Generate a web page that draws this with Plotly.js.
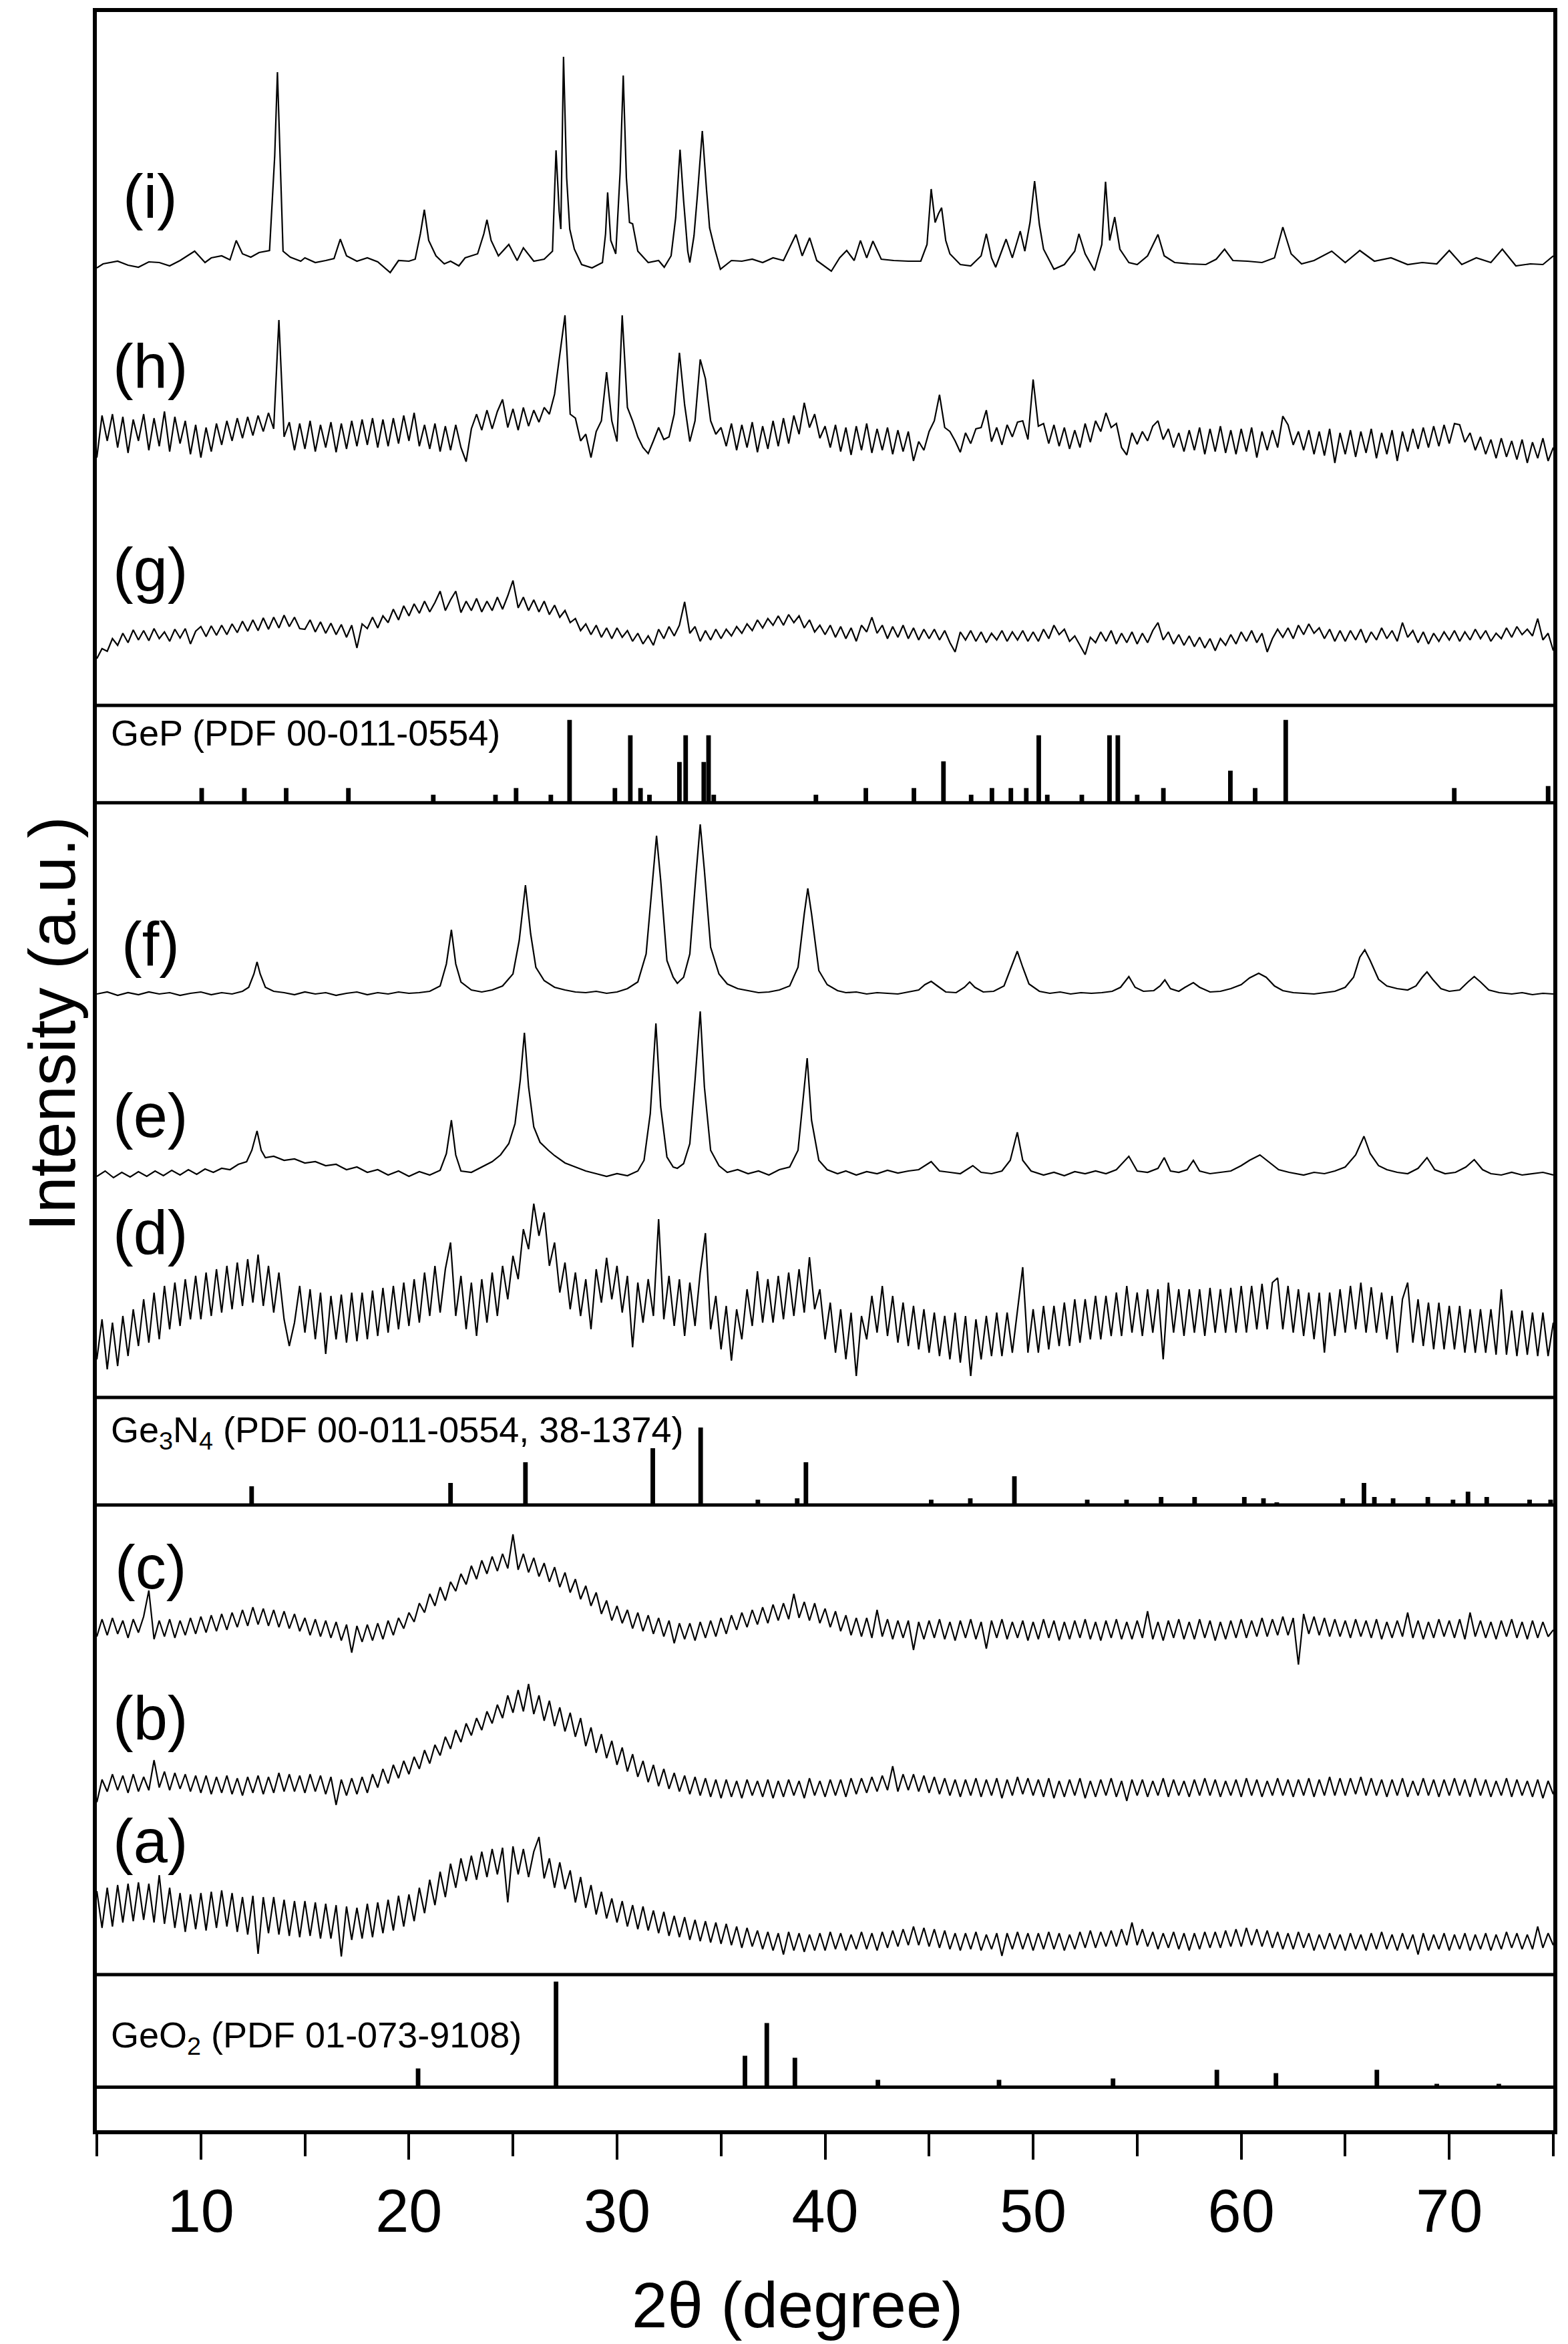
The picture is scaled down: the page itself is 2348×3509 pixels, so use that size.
<!DOCTYPE html>
<html>
<head>
<meta charset="utf-8">
<script src="https://cdn.plot.ly/plotly-3.0.1.min.js"></script>
<style>html,body{margin:0;padding:0;background:#fff}</style>
</head>
<body>
<div id="chart" style="width:2348px;height:3509px"></div>
<script>
// 2theta scan grid (0.25 deg step) used by the noisy patterns
const twoTheta = Array.from({length: 281}, (_, k) => 5 + 0.25 * k);

// intensities (a.u.), one row = 5 degrees
const patA = [
  75, 20, 80, 22, 84, 28, 86, 30, 88, 32, 86, 28, 99, 26, 80, 20, 72, 14, 70, 18,
  72, 16, 74, 20, 76, 22, 72, 14, 66, 10, 68, -19, 66, 12, 66, 10, 62, 8, 60, 6,
  60, 8, 58, 4, 56, 4, 54, -23, 52, 2, 50, 4, 56, 6, 58, 12, 62, 16, 68, 22,
  70, 30, 80, 42, 92, 54, 104, 66, 116, 80, 124, 90, 128, 92, 134, 96, 138, 100, 140, 58,
  142, 100, 138, 96, 134, 156, 94, 124, 80, 118, 78, 106, 58, 96, 50, 84, 40, 74, 34, 64,
  28, 60, 22, 54, 18, 52, 16, 46, 12, 44, 8, 38, 6, 36, 2, 32, 0, 30, -2, 28,
  -4, 26, -6, 22, -10, 20, -8, 16, -12, 14, -14, 12, -20, 14, -14, 12, -16, 10, -14, 12,
  -14, 14, -12, 12, -14, 10, -12, 14, -12, 12, -14, 14, -10, 16, -8, 18, -6, 22, -6, 20,
  -8, 18, -10, 16, -12, 12, -14, 12, -12, 14, -14, 10, -12, 12, -22, 12, -12, 14, -12, 12,
  -14, 12, -12, 14, -12, 12, -14, 10, -12, 14, -10, 16, -10, 14, -8, 16, -8, 18, -6, 28,
  -6, 18, -8, 14, -12, 12, -10, 14, -12, 12, -14, 12, -12, 14, -10, 14, -10, 16, -8, 18,
  -8, 20, -6, 18, -8, 16, -10, 14, -12, 12, -12, 14, -10, 12, -14, 10, -12, 12, -12, 10,
  -14, 12, -12, 10, -14, 12, -12, 14, -12, 10, -14, 12, -12, 10, -20, 12, -14, 10, -12, 12,
  -14, 10, -12, 12, -14, 10, -12, 12, -14, 10, -12, 14, -10, 12, -12, 10, -12, 22, -10, 12,
  -6
];
const patB = [
  -22, 12, -6, 20, -4, 18, -8, 20, -6, 16, -4, 41, 0, 24, -4, 22, -2, 20, -6, 18,
  -8, 18, -10, 16, -8, 18, -10, 14, -12, 16, -8, 18, -10, 16, -8, 22, -6, 20, -6, 18,
  -8, 20, -6, 18, -10, 16, -26, 12, -12, 14, -10, 16, -8, 20, 0, 28, 6, 34, 14, 40,
  20, 46, 28, 56, 36, 64, 48, 76, 58, 86, 68, 96, 78, 104, 86, 114, 96, 124, 104, 138,
  112, 146, 114, 155, 110, 138, 100, 130, 92, 120, 84, 112, 76, 104, 62, 90, 52, 80, 44, 70,
  34, 60, 24, 50, 16, 40, 8, 34, 2, 28, -2, 22, -6, 18, -10, 16, -12, 14, -14, 12,
  -16, 12, -14, 10, -16, 12, -12, 10, -14, 12, -16, 10, -14, 12, -12, 10, -16, 14, -12, 10,
  -14, 12, -12, 12, -14, 14, -10, 14, -8, 16, -6, 18, -4, 32, -6, 20, -4, 20, -6, 18,
  -8, 16, -10, 14, -12, 12, -14, 12, -12, 14, -14, 12, -12, 14, -16, 12, -12, 16, -10, 14,
  -12, 12, -14, 14, -16, 10, -14, 12, -12, 14, -16, 10, -14, 12, -12, 14, -14, 10, -20, 12,
  -12, 12, -14, 10, -12, 14, -14, 12, -12, 10, -14, 12, -12, 14, -12, 12, -14, 10, -12, 12,
  -14, 14, -12, 12, -14, 10, -12, 14, -12, 12, -14, 12, -12, 14, -14, 12, -12, 16, -12, 14,
  -12, 14, -10, 16, -12, 14, -12, 12, -14, 12, -12, 14, -14, 10, -12, 14, -12, 12, -14, 12,
  -12, 14, -12, 12, -14, 14, -12, 12, -14, 10, -12, 14, -14, 12, -12, 10, -14, 12, -16, 10,
  -10
];
const patC = [
  -10, 16, -8, 18, -6, 14, -12, 16, -4, 20, 59, -14, 14, -10, 16, -12, 14, -8, 18, -6,
  20, -4, 22, -2, 24, 0, 26, 4, 30, 6, 34, 8, 32, 6, 30, 4, 28, 2, 24, -2,
  18, -8, 16, -10, 14, -12, 12, -16, 8, -34, 6, -18, 8, -16, 10, -14, 14, -8, 18, 2,
  26, 12, 40, 26, 54, 36, 64, 44, 72, 58, 84, 68, 96, 76, 104, 84, 110, 88, 114, 92,
  143, 90, 114, 86, 108, 80, 100, 72, 94, 64, 86, 56, 76, 46, 66, 36, 56, 24, 44, 14,
  36, 10, 30, 2, 26, -2, 22, -6, 18, -10, 14, -20, 10, -14, 10, -16, 12, -12, 14, -10,
  18, -6, 22, 0, 26, 4, 30, 8, 34, 10, 38, 14, 40, 16, 54, 18, 42, 14, 40, 10,
  32, 4, 28, -2, 22, -8, 18, -10, 18, -12, 30, -10, 16, -14, 14, -12, 14, -30, 12, -14,
  14, -12, 16, -14, 12, -16, 14, -12, 16, -14, 12, -28, 14, -12, 16, -14, 12, -12, 14, -16,
  12, -14, 16, -12, 14, -16, 12, -14, 14, -12, 16, -14, 12, -16, 14, -12, 16, -14, 12, -14,
  14, -12, 28, -14, 12, -16, 14, -12, 16, -14, 12, -14, 16, -12, 14, -16, 12, -14, 14, -12,
  16, -12, 14, -10, 18, -10, 16, -8, 20, -8, 18, -52, 24, -6, 20, -8, 18, -10, 16, -10,
  14, -12, 16, -10, 14, -12, 16, -14, 12, -12, 14, -10, 26, -12, 14, -14, 12, -12, 16, -10,
  14, -12, 16, -14, 26, -10, 14, -12, 12, -14, 14, -10, 16, -12, 12, -14, 14, -12, 12, -10,
  0
];
const patD = [
  -45, 15, -60, 10, -55, 20, -40, 30, -25, 45, -20, 55, -15, 65, 0, 70, 5, 75, 15, 80,
  15, 85, 20, 90, 25, 95, 30, 100, 35, 105, 40, 112, 35, 95, 25, 85, 15, -25, 10, 65,
  -5, 60, -15, 55, -37, 50, -15, 52, -20, 55, -18, 55, -15, 58, -10, 62, -5, 65, 0, 70,
  5, 75, 10, 85, 20, 95, 25, 90, 130, 20, 80, 0, 70, -10, 75, 10, 85, 20, 95, 45,
  110, 75, 150, 120, 188, 140, 175, 95, 130, 55, 100, 30, 85, 20, 75, 0, 90, 40, 107, 45,
  95, 25, 80, -27, 70, 10, 75, 20, 165, 15, 80, 5, 75, -10, 70, 5, 85, 144, 0, 50,
  -30, 35, -47, 30, -15, 60, 5, 87, 10, 75, 10, 80, 15, 85, 20, 90, 25, 108, 30, 60,
  -15, 40, -35, 30, -45, 25, -70, 20, -15, 50, -5, 65, -10, 50, -20, 40, -25, 35, -30, 30,
  -35, 25, -40, 20, -45, 25, -50, 20, -70, 15, -45, 20, -40, 25, -40, 25, -35, 30, 93, -35,
  30, -35, 35, -30, 35, -25, 40, -25, 45, -20, 45, -15, 50, -15, 50, -10, 55, -10, 65, -5,
  55, -10, 60, -5, 60, -45, 70, -5, 60, -10, 60, -5, 60, -10, 62, -5, 60, -5, 62, -5,
  65, -5, 65, 0, 68, 0, 70, 77, 0, 65, -5, 60, -10, 55, -15, 55, -35, 55, -10, 60,
  -5, 65, 0, 70, -5, 63, -5, 55, -15, 50, -35, 45, 70, -20, 45, -25, 40, -30, 40, -30,
  35, -30, 35, -35, 30, -35, 30, -35, 30, -38, 60, -38, 28, -40, 28, -38, 25, -40, 25, -40,
  10
];
const patG = [
  -36, -21, -25, -6, -16, 2, -12, 7, -8, 6, -9, 9, -6, 4, -10, 8, -5, 9, -14, 5,
  12, -3, 13, -1, 14, 0, 16, 3, 20, 5, 22, 6, 25, 8, 26, 10, 29, 12, 26, 9,
  8, 22, 4, 19, 2, 17, 0, 15, -4, 14, -20, 16, 9, 26, 10, 28, 18, 38, 22, 43,
  28, 46, 32, 50, 34, 48, 65, 36, 52, 65, 33, 50, 36, 54, 34, 50, 36, 56, 38, 58,
  81, 40, 56, 36, 52, 34, 50, 30, 44, 26, 36, 18, 24, 6, 16, 0, 14, -4, 10, -6,
  10, -4, 6, -10, 2, -14, -2, -16, 8, -6, 12, -2, 14, 49, 2, 12, -10, 6, -8, 8,
  -6, 8, -2, 12, 2, 16, 6, 22, 10, 24, 14, 28, 14, 30, 18, 28, 10, 22, 4, 14,
  0, 14, -4, 12, -6, 10, -10, 14, 4, 26, 2, 14, -6, 12, -4, 14, -6, 10, -8, 8,
  -6, 8, -8, 6, -12, -26, 4, -8, 6, -10, 4, -12, 2, -8, 6, -10, 4, -8, 6, -10,
  4, -10, 8, -6, 14, 0, 8, -10, -2, -16, -30, -4, -12, 4, -10, 6, -14, 2, -12, 4,
  -14, 2, -12, 6, 18, -8, 4, -14, 0, -16, -2, -18, -4, -20, -6, -24, -6, -16, 0, -14,
  4, -10, 6, -12, 2, -26, -6, 8, -4, 10, -6, 14, 0, 16, 2, 10, -6, 8, -10, 6,
  -10, 6, -8, 8, -12, 4, -8, 10, -6, 6, -10, 18, -4, 6, -12, 4, -14, 2, -10, 4,
  -8, 6, -10, 4, -8, 8, -6, 6, -10, 2, -6, 10, -4, 12, 0, 8, -2, 24, -8, 2,
  -24
];
const patH = [
  -35, 28, -10, 30, -20, 26, -28, 22, -10, 30, -24, 24, -18, 34, -26, 26, -14, 20, -30, 14,
  -35, 10, -26, 16, -16, 20, -10, 24, -6, 26, -2, 28, 4, 32, 8, 171, -4, 18, -24, 16,
  -22, 20, -26, 14, -20, 18, -27, 16, -22, 20, -18, 22, -16, 24, -20, 22, -18, 24, -14, 28,
  -10, 32, -18, 14, -22, 16, -26, 12, -24, 14, -20, -41, 8, 30, 6, 36, 8, 34, 52, 10,
  38, 6, 40, 12, 36, 18, 40, 30, 60, 120, 178, 30, 24, -10, 0, -35, 4, 20, 93, 20,
  -11, 178, 40, 20, -4, -20, -29, -10, 10, -8, -4, 30, 122, 44, -11, 20, 112, 83, 20, 0,
  10, -18, 16, -24, 14, -20, 18, -27, 12, -22, 20, -18, 24, -14, 28, 0, 47, 10, 30, -6,
  12, -20, 14, -26, 10, -31, 12, -24, 16, -28, 8, -24, 10, -30, 6, -26, 4, -40, -11, -24,
  4, 20, 59, 10, 4, -10, -27, 2, -14, 8, 10, 36, -11, 10, -16, 14, -4, 18, 20, -8,
  82, 12, 16, -14, 14, -18, 10, -22, 6, -20, 16, -12, 20, 4, 32, 10, 16, -20, -31, 2,
  -15, 4, -10, 12, 20, -8, 8, -20, 2, -26, 6, -24, 10, -30, 8, -26, 12, -28, 6, -30,
  8, -26, 10, -35, 4, -24, 6, -20, 27, 14, -16, 4, -24, 6, -30, 4, -32, 8, -43, 2,
  -30, 6, -34, 4, -28, 8, -36, 2, -30, 6, -40, 4, -26, 8, -22, 10, -20, 12, -18, 14,
  -14, 16, 14, -12, 2, -24, -4, -30, -8, -36, -6, -34, -10, -38, -8, -43, -12, -36, -6, -40,
  -20
];

// crystalline patterns, [2theta, intensity]
const patE = [
  [5,-4],[5.4,4],[5.8,-6],[6.2,2],[6.6,-5],[7,3],[7.4,-4],[7.8,4],[8.2,-3],[8.6,5],[9,-2],[9.4,6],[9.8,-1],
  [10.2,7],[10.6,2],[11,8],[11.4,6],[11.8,14],[12.2,18],[12.45,35],[12.7,64],[12.9,35],[13.1,24],[13.5,26],
  [14,20],[14.5,22],[15,16],[15.5,18],[16,12],[16.5,14],[17,6],[17.5,10],[18,2],[18.5,6],[19,-2],[19.5,4],
  [20,-4],[20.5,3],[21,-2],[21.5,5],[21.8,30],[22.04,80],[22.25,28],[22.5,4],[23,2],[23.5,10],[24,18],
  [24.4,28],[24.8,45],[25.1,75],[25.35,140],[25.55,211],[25.75,130],[26,70],[26.3,47],[26.7,35],[27,27],
  [27.5,16],[28,10],[28.5,4],[29,0],[29.5,-4],[30,0],[30.5,-3],[31,4],[31.3,20],[31.6,90],[31.87,225],
  [32.1,100],[32.4,25],[32.7,10],[32.9,8],[33.2,15],[33.5,45],[33.75,140],[34,243],[34.2,130],[34.5,35],
  [34.9,12],[35.3,2],[35.8,6],[36.3,0],[36.8,4],[37.3,-2],[37.8,6],[38.3,10],[38.7,35],[38.95,110],
  [39.14,173],[39.35,80],[39.7,20],[40.1,6],[40.6,0],[41,4],[41.5,-2],[42,3],[42.5,0],[43,5],[43.5,1],
  [44,4],[44.5,6],[45.1,18],[45.5,4],[46,2],[46.5,0],[47.1,12],[47.5,2],[48,0],[48.5,4],[48.9,20],
  [49.24,62],[49.5,20],[49.9,4],[50.5,-2],[51,2],[51.5,-3],[52,3],[52.5,0],[53,4],[53.5,0],[54,6],
  [54.6,26],[55,4],[55.5,2],[56,8],[56.3,24],[56.6,4],[57,2],[57.4,6],[57.7,20],[58,4],[58.5,0],[59,2],
  [59.5,4],[60,12],[60.4,20],[60.9,28],[61.3,18],[61.8,6],[62.3,2],[63,-2],[63.5,2],[64,0],[64.5,4],
  [65,10],[65.5,28],[65.9,56],[66.2,30],[66.6,12],[67,6],[67.5,2],[68,0],[68.5,8],[68.93,24],[69.3,6],
  [69.8,0],[70.3,2],[70.8,10],[71.2,21],[71.6,6],[72,0],[72.5,-2],[73,2],[73.5,-2],[74,0],[74.5,2],[75,-2]
];
const patF = [
  [5,0],[5.5,3],[6,-2],[6.5,2],[7,-1],[7.5,3],[8,0],[8.5,2],[9,-2],[9.5,1],[10,3],[10.5,-1],[11,2],[11.5,0],
  [12,4],[12.3,10],[12.55,30],[12.7,48],[12.85,30],[13.1,10],[13.5,4],[14,2],[14.5,-1],[15,3],[15.5,0],
  [16,2],[16.5,-2],[17,1],[17.5,3],[18,-1],[18.5,2],[19,0],[19.5,3],[20,1],[20.5,2],[21,4],[21.5,12],
  [21.8,45],[22.04,96],[22.25,45],[22.5,18],[23,6],[23.5,3],[24,6],[24.5,12],[25,30],[25.3,80],[25.6,163],
  [25.85,90],[26.1,40],[26.5,20],[27,10],[27.5,6],[28,3],[28.5,2],[29,4],[29.5,1],[30,3],[30.5,8],[31,18],
  [31.4,60],[31.7,170],[31.9,237],[32.1,170],[32.4,50],[32.7,25],[32.9,16],[33.2,25],[33.5,60],[33.8,180],
  [34,254],[34.2,185],[34.5,70],[34.9,30],[35.3,15],[35.8,8],[36.3,5],[36.8,2],[37.3,3],[37.8,6],[38.3,12],
  [38.7,40],[39,120],[39.17,158],[39.35,120],[39.7,35],[40.1,14],[40.6,5],[41,2],[41.5,3],[42,0],[42.5,2],
  [43,1],[43.5,0],[44,3],[44.5,6],[44.8,14],[45.1,19],[45.4,12],[45.8,3],[46.3,2],[46.7,10],[46.95,18],
  [47.2,10],[47.6,3],[48.1,4],[48.6,12],[48.95,40],[49.24,64],[49.5,40],[49.8,15],[50.3,4],[50.8,1],
  [51.3,3],[51.8,0],[52.3,2],[52.8,1],[53.3,2],[53.8,4],[54.2,10],[54.6,26],[54.9,10],[55.3,4],[55.8,5],
  [56.1,12],[56.33,21],[56.6,8],[57,4],[57.3,10],[57.7,17],[58,10],[58.5,3],[59,4],[59.5,8],[60,14],
  [60.4,24],[60.84,31],[61.2,25],[61.6,12],[62,5],[62.5,2],[63,1],[63.5,0],[64,2],[64.5,4],[65,10],
  [65.4,25],[65.7,55],[65.94,66],[66.2,50],[66.6,22],[67,12],[67.5,8],[68,6],[68.4,12],[68.7,25],
  [68.93,33],[69.2,22],[69.6,8],[70,4],[70.5,6],[70.9,18],[71.2,26],[71.5,18],[71.9,6],[72.4,2],[73,0],
  [73.5,2],[74,-1],[74.5,1],[75,0]
];
const patITheta = [
  5, 5.3, 6, 6.5, 7, 7.5, 8, 8.5, 9, 9.7,
  10.2, 10.5, 11, 11.4, 11.7, 12, 12.4, 12.8, 13.3, 13.55,
  13.68, 13.8, 13.95, 14.3, 14.8, 15, 15.5, 16, 16.4, 16.7,
  17, 17.5, 18, 18.5, 19.1, 19.5, 20, 20.3, 20.55, 20.74,
  20.95, 21.3, 21.7, 22, 22.4, 22.7, 23.3, 23.6, 23.75, 23.95,
  24.3, 24.8, 25.2, 25.5, 26, 26.5, 26.9, 27.07, 27.22, 27.3,
  27.43, 27.58, 27.73, 27.95, 28.3, 28.8, 29.3, 29.45, 29.55, 29.7,
  29.94, 30.15, 30.3, 30.45, 30.6, 30.75, 31, 31.5, 32, 32.27,
  32.6, 32.82, 33.03, 33.2, 33.4, 33.5, 33.7, 33.87, 34.1, 34.3,
  34.45, 34.7, 34.97, 35.5, 36, 36.5, 37, 37.5, 38, 38.6,
  38.9, 39.26, 39.6, 40.3, 40.7, 41.04, 41.4, 41.7, 42, 42.3,
  42.7, 43.3, 44, 44.6, 44.9, 45.1, 45.29, 45.45, 45.6, 45.8,
  46, 46.5, 47, 47.5, 47.75, 48, 48.2, 48.7, 49, 49.38,
  49.6, 49.85, 50.07, 50.3, 50.5, 51, 51.5, 52, 52.2, 52.5,
  52.95, 53.3, 53.48, 53.68, 53.92, 54.17, 54.6, 55, 55.5, 56,
  56.3, 56.8, 57.5, 58.3, 58.8, 59.2, 59.6, 60.3, 61, 61.6,
  62, 62.4, 62.9, 63.5, 64.35, 65, 65.7, 66.4, 67.2, 68,
  68.7, 69.4, 70, 70.6, 71.3, 72, 72.55, 73.2, 73.9, 74.5,
  75
];
const patIInt = [
  -8, -2, 2, -4, -7, 1, 0, -5, 3, 17,
  0, 7, 10, 4, 33, 13, 8, 15, 18, 160,
  285, 160, 17, 8, 2, 7, 0, 3, 6, 35,
  10, 2, 7, 1, -15, 3, 2, 5, 43, 79,
  33, 10, -2, 2, -5, 7, 13, 43, 64, 33,
  10, 27, 3, 22, 2, 5, 17, 168, 77, 50,
  308, 127, 50, 20, -3, -8, 0, 43, 105, 33,
  13, 135, 280, 127, 60, 58, 17, 0, 3, -7,
  10, 67, 169, 93, 17, 0, 40, 103, 197, 110,
  52, 20, -10, 3, 2, 5, 0, 7, 3, 42,
  10, 37, 3, -13, 7, 18, 3, 33, 7, 32,
  5, 3, 2, 2, 27, 110, 60, 73, 82, 33,
  13, -3, -5, 10, 43, 7, -7, 35, 7, 47,
  17, 60, 122, 57, 20, -10, -3, 17, 43, 13,
  -12, 27, 121, 33, 68, 20, 0, -3, 10, 42,
  10, 0, -2, -3, 5, 20, 3, 2, 0, 7,
  53, 13, -2, 3, 17, 0, 18, 2, 7, -3,
  0, -2, 18, -3, 7, 0, 20, -5, -2, -3,
  10
];

// reference stick patterns
const gepPos = [10.04, 12.09, 14.1, 17.09, 21.17, 24.16, 25.15, 26.82, 27.72, 29.9, 30.64, 31.13, 31.56,
  33.0, 33.3, 34.17, 34.4, 34.65, 39.56, 41.96, 44.27, 45.69, 47.02, 48.02, 48.93, 49.67, 50.27, 50.68,
  52.34, 53.67, 54.07, 55.0, 56.26, 59.48, 60.67, 62.14, 70.24, 74.75];
const gepInt = [22, 22, 22, 22, 12, 12, 22, 12, 124, 22, 101, 22, 12,
  61, 101, 61, 101, 12, 12, 22, 22, 62, 12, 22, 22, 22, 101, 12,
  12, 101, 101, 12, 22, 48, 22, 124, 22, 25];
const ge3n4Pos = [12.44, 22.0, 25.6, 31.72, 34.02, 36.77, 38.66, 39.08, 45.1, 46.98, 49.1, 52.6, 54.49,
  56.15, 57.76, 60.15, 61.07, 61.71, 64.88, 65.9, 66.4, 67.3, 68.97, 70.18, 70.9, 71.8, 73.86, 74.87];
const ge3n4Int = [28, 33, 64, 85, 116, 8, 10, 64, 8, 10, 43, 8, 8,
  12, 12, 12, 10, 4, 10, 33, 12, 10, 12, 8, 20, 12, 8, 8];
const geo2Pos = [20.44, 27.07, 36.15, 37.2, 38.55, 42.54, 48.36, 53.84, 58.83, 61.67, 66.52, 69.4, 72.38];
const geo2Int = [28, 158, 47, 96, 44, 11, 11, 13, 26, 21, 26, 5, 5];

const refNames = ['GeP (PDF 00-011-0554)',
  'Ge<sub>3</sub>N<sub>4</sub> (PDF 00-011-0554, 38-1374)',
  'GeO<sub>2</sub> (PDF 01-073-9108)'];

// ---- stacking (vertical offsets in plot units) ----
const FONT = 'Arial, "Liberation Sans", sans-serif';
const offsets = {a: 283, b: 513, c: 749, d: 1199, e: 1432, f: 1701, g: 2239, h: 2539, i: 2796};
const stickBase = {gep: 1987.3, ge3n4: 936, geo2: 64.5};
const separators = [2133, 1987.3, 1097, 936, 233, 64.5];
const labelY = {a: 433, b: 617, c: 843, d: 1344, e: 1519, f: 1776, g: 2336, h: 2641, i: 2895};

function lineTrace(x, y, off) {
  return {
    type: 'scatter', mode: 'lines', x: x, y: y.map(v => v + off),
    line: {color: '#000', width: 2.2}, hoverinfo: 'skip', showlegend: false
  };
}
function stickTrace(x, y, base) {
  return {
    type: 'bar', x: x, y: y, base: base, width: 0.22,
    marker: {color: '#000', line: {width: 0}}, hoverinfo: 'skip', showlegend: false
  };
}

const traces = [
  lineTrace(twoTheta, patA, offsets.a),
  lineTrace(twoTheta, patB, offsets.b),
  lineTrace(twoTheta, patC, offsets.c),
  lineTrace(twoTheta, patD, offsets.d),
  lineTrace(patE.map(p => p[0]), patE.map(p => p[1]), offsets.e),
  lineTrace(patF.map(p => p[0]), patF.map(p => p[1]), offsets.f),
  lineTrace(twoTheta, patG, offsets.g),
  lineTrace(twoTheta, patH, offsets.h),
  lineTrace(patITheta, patIInt, offsets.i),
  stickTrace(gepPos, gepInt, stickBase.gep),
  stickTrace(ge3n4Pos, ge3n4Int, stickBase.ge3n4),
  stickTrace(geo2Pos, geo2Int, stickBase.geo2)
];

const shapes = separators.map(y => ({
  type: 'line', xref: 'paper', x0: 0, x1: 1, yref: 'y', y0: y, y1: y,
  line: {color: '#000', width: 5}
}));

const annotations = Object.keys(labelY).map(k => ({
  x: 7.57, y: labelY[k], xref: 'x', yref: 'y', text: '(' + k + ')', showarrow: false,
  xanchor: 'center', yanchor: 'middle', font: {family: FONT, size: 92, color: '#000'}
}));
[[2092, 0], [1045, 1], [139, 2]].forEach(([y, i]) => annotations.push({
  x: 5.61, y: y, xref: 'x', yref: 'y', text: refNames[i], showarrow: false,
  xanchor: 'left', yanchor: 'middle', font: {family: FONT, size: 54, color: '#000'}
}));
annotations.push({
  x: 0.481, y: -0.0826, xref: 'paper', yref: 'paper', text: '2θ (degree)', showarrow: false,
  xanchor: 'center', yanchor: 'middle', font: {family: FONT, size: 96, color: '#000'}
});
annotations.push({
  x: -0.0307, y: 0.5222, xref: 'paper', yref: 'paper', text: 'Intensity (a.u.)', showarrow: false,
  textangle: -90, xanchor: 'center', yanchor: 'middle', font: {family: FONT, size: 98, color: '#000'}
});

const layout = {
  width: 2348, height: 3509,
  margin: {l: 145, r: 22, t: 18, b: 320},
  paper_bgcolor: '#fff', plot_bgcolor: '#fff',
  barmode: 'overlay', showlegend: false,
  font: {family: FONT, color: '#000'},
  xaxis: {
    range: [5, 75], showgrid: false, zeroline: false,
    showline: true, mirror: true, linecolor: '#000', linewidth: 6,
    ticks: 'outside', ticklen: 38, tickwidth: 4, tickcolor: '#000',
    tick0: 0, dtick: 10, tickfont: {family: FONT, size: 90, color: '#000'},
    minor: {ticks: 'outside', tick0: 5, dtick: 10, ticklen: 33, tickwidth: 4, tickcolor: '#000'}
  },
  yaxis: {
    range: [0, 3171], showgrid: false, zeroline: false, showticklabels: false, ticks: '',
    showline: true, mirror: true, linecolor: '#000', linewidth: 6
  },
  shapes: shapes,
  annotations: annotations
};

Plotly.newPlot('chart', traces, layout, {staticPlot: true, displayModeBar: false});
</script>
</body>
</html>
